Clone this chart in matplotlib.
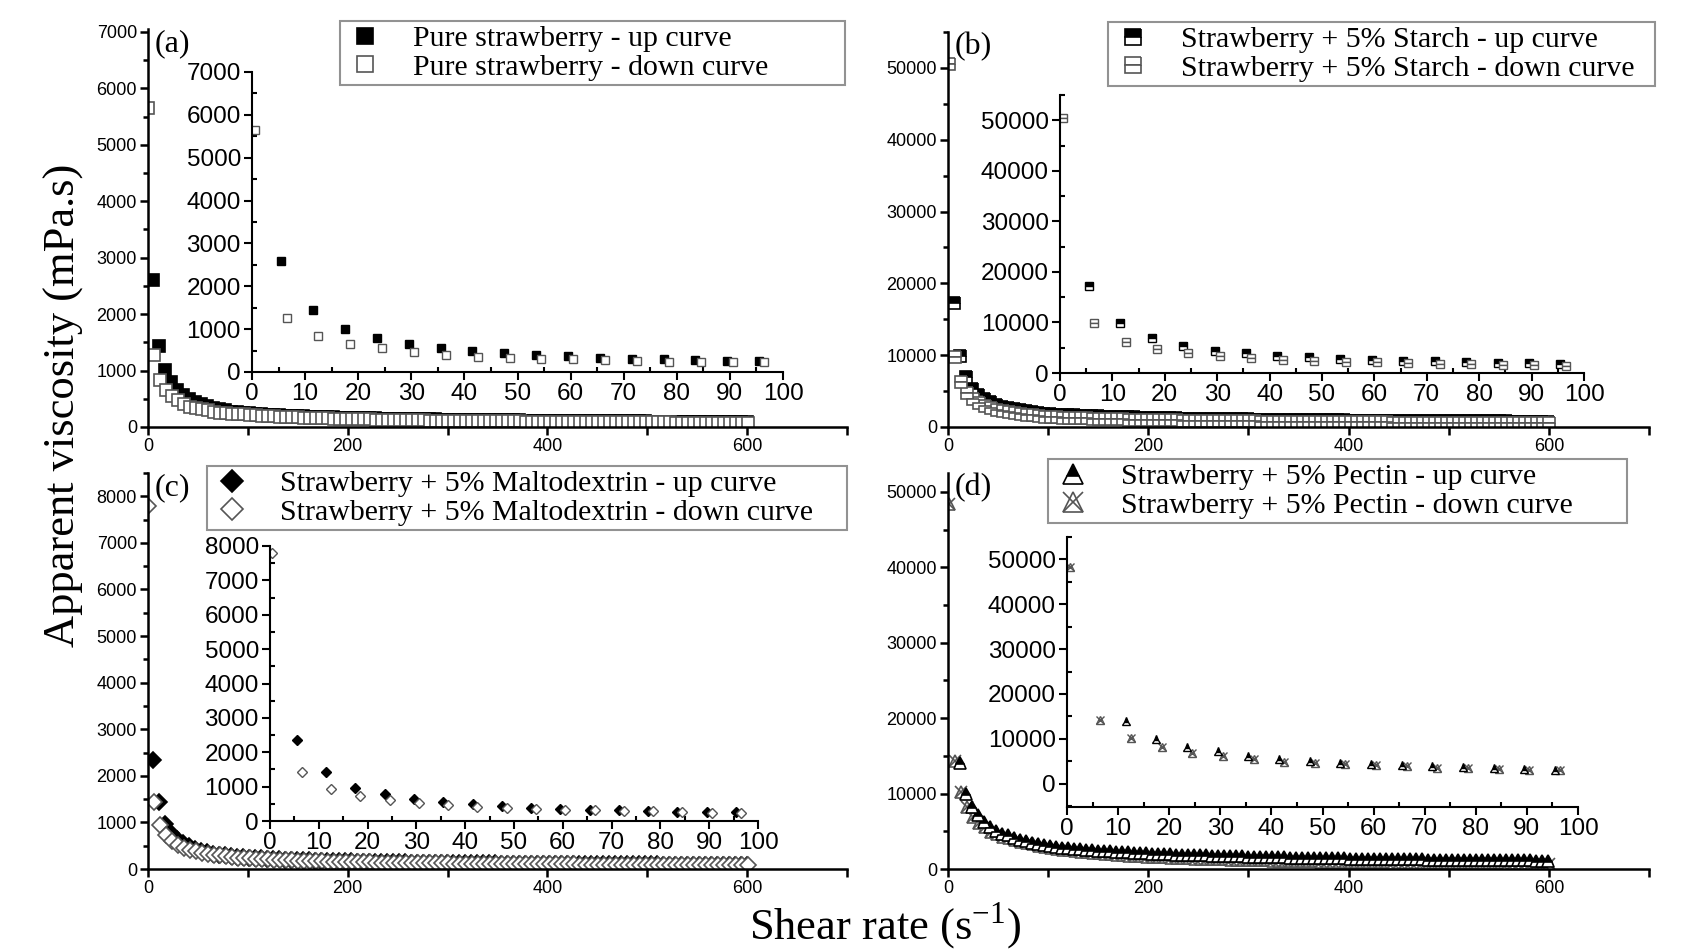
import numpy as np
import matplotlib.pyplot as plt
from matplotlib.ticker import MultipleLocator

plt.rcParams['font.family'] = ['Liberation Sans', 'DejaVu Sans']

# apparent viscosity (mPa.s), shear-rate grid step 6 s^-1
# up curves start at 5.5 s^-1 (pectin at 11.5), down curves at 0.5 s^-1
pure_up = [2600, 1440, 1010, 800, 660, 570, 490, 450, 400, 370, 335, 310, 295, 270, 262, 252,
           243, 235, 228, 221, 214, 209, 203, 198, 193, 189,
           185, 181, 177, 174, 171, 168, 165, 162, 159, 157,
           155, 152, 150, 148, 146, 144, 142, 140, 138, 137,
           135, 133, 132, 130, 129, 128, 126, 125, 124, 122,
           121, 120, 119, 118, 117, 116, 115, 114, 113, 112,
           111, 110, 109, 108, 107, 106, 106, 105, 104, 103,
           102, 102, 101, 100, 99, 99, 98, 97, 97, 96,
           95, 95, 94, 93, 93, 92, 92, 91, 90, 90,
           89, 89, 88, 88]
pure_down = [5650, 1270, 840, 660, 550, 475, 405, 360, 335, 310, 295, 270, 255, 240, 233, 228, 222,
             214, 207, 200, 194, 188, 183, 178, 173, 169, 165,
             161, 157, 154, 151, 148, 145, 142, 140, 137, 135,
             133, 131, 129, 127, 125, 123, 121, 120, 118, 117,
             115, 114, 112, 111, 110, 108, 107, 106, 105, 104,
             103, 102, 101, 100, 99, 98, 97, 96, 95, 94,
             93, 93, 92, 91, 90, 89, 89, 88, 87, 87,
             86, 85, 85, 84, 83, 83, 82, 82, 81, 80,
             80, 79, 79, 78, 78, 77, 77, 76, 76, 75,
             75, 74, 74, 73]

starch_up = [17300, 9900, 6900, 5250, 4450, 3900, 3450, 3100, 2800, 2600, 2450, 2300, 2170, 2050, 1950, 1850,
             1800, 1740, 1700, 1650, 1610, 1580, 1540, 1510, 1480, 1450,
             1420, 1400, 1370, 1350, 1330, 1310, 1290, 1270, 1250, 1230,
             1220, 1200, 1180, 1170, 1150, 1140, 1130, 1110, 1100, 1090,
             1080, 1070, 1060, 1050, 1030, 1020, 1020, 1010, 1000, 990,
             980, 970, 960, 950, 950, 940, 930, 920, 920, 910,
             900, 900, 890, 880, 880, 870, 860, 860, 850, 850,
             840, 840, 830, 830, 820, 820, 810, 810, 800, 800,
             790, 790, 780, 780, 780, 770, 770, 760, 760, 750,
             750, 750, 740, 740]
starch_down = [50500, 9800, 6200, 4700, 3900, 3400, 2950, 2650, 2400, 2200, 2080, 1950, 1800, 1700, 1620, 1550, 1450,
               1400, 1360, 1320, 1280, 1250, 1220, 1190, 1160, 1140, 1110,
               1090, 1070, 1050, 1030, 1010, 1000, 980, 960, 950, 930,
               920, 910, 890, 880, 870, 860, 850, 840, 830, 820,
               810, 800, 790, 780, 770, 760, 760, 750, 740, 730,
               720, 720, 710, 700, 700, 690, 680, 680, 670, 670,
               660, 650, 650, 640, 640, 630, 630, 620, 620, 610,
               610, 600, 600, 590, 590, 580, 580, 580, 570, 570,
               560, 560, 560, 550, 550, 540, 540, 540, 530, 530,
               530, 520, 520, 520]

malto_up = [2350, 1430, 970, 780, 650, 555, 485, 437, 390, 360, 330, 310, 291, 272, 260, 250,
            241, 233, 226, 219, 213, 207, 202, 197, 192, 188,
            184, 180, 176, 173, 170, 167, 164, 161, 158, 156,
            153, 151, 149, 147, 145, 143, 141, 139, 137, 136,
            134, 133, 131, 130, 128, 127, 126, 124, 123, 122,
            121, 120, 118, 117, 116, 115, 114, 113, 112, 111,
            110, 110, 109, 108, 107, 106, 105, 105, 104, 103,
            102, 102, 101, 100, 100, 99, 98, 98, 97, 96,
            96, 95, 95, 94, 93, 93, 92, 92, 91, 91,
            90, 90, 89, 89]
malto_down = [7790, 1430, 940, 740, 600, 525, 456, 408, 380, 350, 330, 310, 291, 281, 262, 243, 233,
              226, 219, 212, 205, 199, 194, 189, 184, 179, 175,
              171, 167, 164, 160, 157, 154, 151, 149, 146, 144,
              141, 139, 137, 135, 133, 131, 129, 128, 126, 124,
              123, 121, 120, 119, 117, 116, 115, 113, 112, 111,
              110, 109, 108, 107, 106, 105, 104, 103, 102, 101,
              100, 99, 99, 98, 97, 96, 95, 95, 94, 93,
              93, 92, 91, 91, 90, 89, 89, 88, 88, 87,
              86, 86, 85, 85, 84, 84, 83, 83, 82, 82,
              81, 81, 80, 80]

pectin_up = [14000, 10000, 8200, 7200, 6200, 5600, 5100, 4700, 4450, 4150, 3900, 3700, 3500, 3350, 3150,
             3040, 2950, 2850, 2770, 2700, 2620, 2560, 2500, 2440, 2390,
             2330, 2290, 2240, 2200, 2160, 2120, 2080, 2050, 2010, 1980,
             1950, 1920, 1890, 1860, 1840, 1810, 1790, 1770, 1740, 1720,
             1700, 1680, 1660, 1640, 1620, 1610, 1590, 1570, 1560, 1540,
             1520, 1510, 1490, 1480, 1460, 1450, 1440, 1430, 1410, 1400,
             1390, 1380, 1360, 1350, 1340, 1330, 1320, 1310, 1300, 1290,
             1280, 1270, 1260, 1250, 1250, 1240, 1230, 1220, 1210, 1210,
             1200, 1190, 1180, 1170, 1170, 1160, 1150, 1150, 1140, 1130,
             1130, 1120, 1110, 1110]
pectin_down = [48400, 14300, 10200, 8200, 6850, 6150, 5550, 4900, 4600, 4300, 4100, 3850, 3600, 3400, 3250, 3100, 2950,
               2810, 2680, 2570, 2470, 2370, 2280, 2200, 2130, 2060, 2000,
               1940, 1880, 1830, 1780, 1730, 1690, 1650, 1610, 1570, 1540,
               1510, 1480, 1440, 1410, 1390, 1360, 1330, 1310, 1280, 1270,
               1240, 1220, 1200, 1180, 1160, 1150, 1130, 1110, 1100, 1080,
               1060, 1050, 1040, 1020, 1010, 990, 980, 970, 960, 950,
               930, 920, 910, 900, 890, 880, 870, 860, 850, 840,
               830, 830, 820, 810, 800, 800, 790, 780, 770, 770,
               760, 750, 740, 740, 730, 730, 720, 710, 710, 700,
               700, 690, 680, 680]

labels = {
    'a': ['Pure strawberry - up curve', 'Pure strawberry - down curve'],
    'b': ['Strawberry + 5% Starch - up curve', 'Strawberry + 5% Starch - down curve'],
    'c': ['Strawberry + 5% Maltodextrin - up curve', 'Strawberry + 5% Maltodextrin - down curve'],
    'd': ['Strawberry + 5% Pectin - up curve', 'Strawberry + 5% Pectin - down curve'],
}


def grid(start, vals):
    return start + 6 * np.arange(len(vals))


W, H = 1682, 950
fig = plt.figure(figsize=(W / 100, H / 100), dpi=100)


def box(x0, y0, x1, y1):
    # pixel box (top-left origin) -> figure fraction
    return [x0 / W, 1 - y1 / H, (x1 - x0) / W, (y1 - y0) / H]


GREY = '#555555'

styles = {
    'a': (dict(marker='s', color='black', mfc='black', mec='black'),
          dict(marker='s', color=GREY, mfc='white', mec=GREY)),
    'b': (dict(marker='s', color='black', mfc='black', mfcalt='white', mec='black', fillstyle='top'),
          dict(marker='s', color=GREY, mfc='white', mfcalt='white', mec=GREY, fillstyle='top')),
    'c': (dict(marker='D', color='black', mfc='black', mec='black'),
          dict(marker='D', color=GREY, mfc='white', mec=GREY)),
    'd': (dict(marker='^', color='black', mfc='black', mfcalt='white', mec='black', fillstyle='top'),
          dict(marker='^', color=GREY, mfc='white', mec=GREY)),
}

panels = [
    # key, up, down, up start, main box, ylim, ymajor, inset box, inset ylim, inset ymajor, legend box
    ('a', pure_up, pure_down, 5.5, box(148, 29, 847, 427), (0, 7050), 1000,
     box(252, 72, 783, 372), (0, 7000), 1000, (340, 21, 845, 86)),
    ('b', starch_up, starch_down, 5.5, box(948, 32, 1649, 427), (0, 55000), 10000,
     box(1060, 95, 1584, 373), (0, 55000), 10000, (1108, 22, 1655, 86)),
    ('c', malto_up, malto_down, 5.5, box(148, 473, 847, 869), (0, 8500), 1000,
     box(270, 546, 758, 821), (0, 8000), 1000, (207, 466, 847, 530)),
    ('d', pectin_up, pectin_down, 11.5, box(948, 473, 1649, 869), (0, 52500), 10000,
     box(1067, 537, 1578, 807), (-5200, 55000), 10000, (1048, 459, 1627, 524)),
]


def draw(ax, key, up, down, up0, ms, mew, xmax):
    su, sd = styles[key]
    xu, xd = grid(up0, up), grid(0.5, down)
    mu = xu <= xmax
    md = xd <= xmax
    if key == 'd':
        # pectin: down curve underneath, up triangles on top
        ax.plot(xd[md], np.array(down)[md], ls='none', ms=ms, mew=mew, **sd)
        ax.plot(xd[md], np.array(down)[md], ls='none', marker='x', ms=ms, mew=mew, color=GREY)
        ax.plot(xu[mu], np.array(up)[mu], ls='none', ms=ms, mew=mew, **su)
        return
    ax.plot(xu[mu], np.array(up)[mu], ls='none', ms=ms, mew=mew, **su)
    ax.plot(xd[md], np.array(down)[md], ls='none', ms=ms, mew=mew, **sd)


def style_axes(ax, size, lw):
    for s in ['top', 'right']:
        ax.spines[s].set_visible(False)
    for s in ['left', 'bottom']:
        ax.spines[s].set_linewidth(lw)
    ax.tick_params(which='major', direction='out', length=6, width=lw, labelsize=size, pad=2)
    ax.tick_params(which='minor', direction='out', length=3.5, width=lw)
    ax.patch.set_alpha(0)


for key, up, down, up0, mbox, ylim, ymaj, ibox, iylim, iymaj, lg in panels:
    ax = fig.add_axes(mbox)
    draw(ax, key, up, down, up0, 8.5, 1.2, 700)
    ax.set_xlim(0, 700)
    ax.set_ylim(*ylim)
    ax.xaxis.set_major_locator(MultipleLocator(200))
    ax.xaxis.set_minor_locator(MultipleLocator(100))
    ax.yaxis.set_major_locator(MultipleLocator(ymaj))
    ax.yaxis.set_minor_locator(MultipleLocator(ymaj / 2))
    style_axes(ax, 13, 1.8)
    ax.tick_params(which='minor', axis='x', length=6)
    ax.text(0.01, 1.0, '(' + key + ')', transform=ax.transAxes, ha='left', va='top',
            family='Liberation Serif', fontsize=23)

    ins = fig.add_axes(ibox)
    draw(ins, key, up, down, up0, 5.5, 1.0, 100)
    ins.set_xlim(0, 100)
    ins.set_ylim(*iylim)
    ins.xaxis.set_major_locator(MultipleLocator(10))
    ins.xaxis.set_minor_locator(MultipleLocator(5))
    ins.yaxis.set_major_locator(MultipleLocator(iymaj))
    ins.yaxis.set_minor_locator(MultipleLocator(iymaj / 2))
    style_axes(ins, 17.5, 1.5)
    ins.tick_params(which='minor', direction='in')

    # legend, box size
    su, sd = styles[key]
    h1, = ax.plot([], [], ls='none', ms=11, mew=1.2, **su)
    h2, = ax.plot([], [], ls='none', ms=11, mew=1.2, **sd)
    if key == 'd':
        h1, = ax.plot([], [], ls='none', ms=15, mew=1.2, **su)
        hx, = ax.plot([], [], ls='none', marker='x', ms=15, mew=1.2, color=GREY)
        h2, = ax.plot([], [], ls='none', ms=15, mew=1.2, **sd)
        h2 = (h2, hx)
    x0, y0, x1, y1 = lg
    leg = fig.legend([h1, h2], labels[key], loc='upper left', mode='expand',
                     bbox_to_anchor=(x0 / W, 1 - y1 / H, (x1 - x0) / W, (y1 - y0) / H),
                     prop={'family': 'Liberation Serif', 'size': 21.5},
                     frameon=True, fancybox=False, borderpad=0.15, labelspacing=0.05,
                     handlelength=1.4, handletextpad=0.9, borderaxespad=0)
    leg.get_frame().set_edgecolor('#777777')
    leg.get_frame().set_linewidth(1.5)

fig.text(64 / W, 1 - 405 / H, 'Apparent viscosity (mPa.s)', rotation=90, ha='center', va='center',
         family='Liberation Serif', fontsize=32)
fig.text(885 / W, 1 - 926 / H, r'Shear rate (s$^{\mathregular{-1}}$)', ha='center', va='center',
         family='Liberation Serif', fontsize=32)

fig.savefig('out.png', dpi=100)
